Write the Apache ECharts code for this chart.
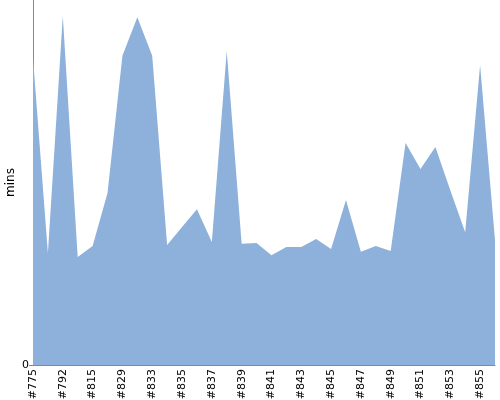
<!DOCTYPE html>
<html>
<head>
<meta charset="utf-8">
<script src="https://cdn.jsdelivr.net/npm/echarts@6/dist/echarts.min.js"></script>
<style>html,body{margin:0;padding:0;background:#fff}#c{width:500px;height:400px}</style>
</head>
<body>
<div id="c"></div>
<script>
var categories = ['#775','#785','#792','#803','#815','#822','#829','#831','#833','#834','#835','#836','#837','#838','#839','#840','#841','#842','#843','#844','#845','#846','#847','#848','#849','#850','#851','#852','#853','#854','#855','#856'];
var durations = [84.1,30.7,95.6,29.6,32.6,47.1,84.7,95.3,84.7,32.9,37.8,42.7,33.7,86.0,33.2,33.4,30.1,32.3,32.3,34.5,31.8,45.2,31.0,32.6,31.2,60.8,53.7,59.7,47.9,36.4,82.2,34.2];
var yTickValues = [0];

var chart = echarts.init(document.getElementById('c'), null, {renderer:'canvas'});
chart.setOption({
  animation:false,
  grid:{left:33,right:5,top:0,bottom:35,containLabel:false,outerBoundsMode:'none'},
  xAxis:{
    type:'category',
    data:categories,
    boundaryGap:false,
    axisLine:{lineStyle:{color:'#888'}},
    axisTick:{show:false},
    axisLabel:{rotate:90,interval:1,color:'#000',fontSize:11,fontFamily:'DejaVu Sans',margin:4}
  },
  yAxis:{
    type:'value',
    min:0,max:100,interval:100,
    name:'mins',nameLocation:'middle',nameGap:16,nameMoveOverlap:false,
    nameTextStyle:{color:'#000',fontSize:12,fontFamily:'DejaVu Sans'},
    axisLine:{show:true,lineStyle:{color:'#888'}},
    axisTick:{show:true,length:4,lineStyle:{color:'#888'},customValues:yTickValues},
    splitLine:{show:false},
    axisLabel:{color:'#000',fontSize:11,fontFamily:'DejaVu Sans',margin:4,customValues:yTickValues}
  },
  series:[{
    type:'line',
    data:durations,
    symbol:'none',
    lineStyle:{width:0},
    areaStyle:{color:'#8EB1DB',opacity:1}
  }]
});
</script>
</body>
</html>
